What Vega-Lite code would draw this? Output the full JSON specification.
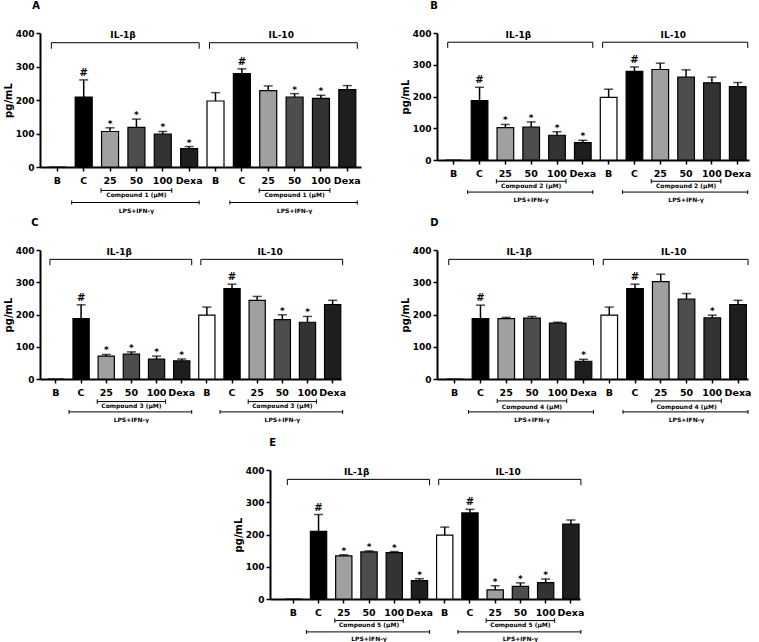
{
"$schema": "https://vega.github.io/schema/vega-lite/v6.json",
"padding": {"left": 3, "top": 1, "right": 0, "bottom": 0},
"config": {
 "view": {"stroke": null},
 "font": "DejaVu Sans",
 "title": {"font": "DejaVu Sans", "fontSize": 10, "fontWeight": "bold", "color": "black", "anchor": "start", "frame": "bounds", "offset": 18},
 "axis": {"grid": false, "domainColor": "black", "domainWidth": 2, "tickColor": "black", "tickWidth": 1.5, "tickSize": 4, "labelColor": "black", "labelFont": "DejaVu Sans", "labelFontWeight": "bold", "titleColor": "black", "titleFont": "DejaVu Sans", "titleFontWeight": "bold"},
 "axisX": {"labelFontSize": 9.5, "labelAngle": 0, "labelPadding": 4},
 "axisY": {"labelFontSize": 9, "labelPadding": 2, "titleFontSize": 10, "titlePadding": 2, "labelOverlap": false, "labelBound": false, "labelFlush": false},
 "text": {"font": "DejaVu Sans", "fontWeight": "bold", "color": "black"},
 "rule": {"color": "black"},
 "bar": {"stroke": "black", "strokeWidth": 1.2}
},
"datasets": {
 "bars": [
  {"p":"A","key":"IL-1β:B","grp":"B","v":0,"hi":null,"sig":""},
  {"p":"A","key":"IL-1β:C","grp":"C","v":209,"hi":260,"sig":"#"},
  {"p":"A","key":"IL-1β:25","grp":"25","v":106,"hi":117,"sig":"*"},
  {"p":"A","key":"IL-1β:50","grp":"50","v":118,"hi":143,"sig":"*"},
  {"p":"A","key":"IL-1β:100","grp":"100","v":98,"hi":106,"sig":"*"},
  {"p":"A","key":"IL-1β:Dexa","grp":"Dexa","v":55,"hi":61,"sig":"*"},
  {"p":"A","key":"IL-10:B","grp":"B","v":197,"hi":222,"sig":""},
  {"p":"A","key":"IL-10:C","grp":"C","v":279,"hi":293,"sig":"#"},
  {"p":"A","key":"IL-10:25","grp":"25","v":228,"hi":242,"sig":""},
  {"p":"A","key":"IL-10:50","grp":"50","v":209,"hi":219,"sig":"*"},
  {"p":"A","key":"IL-10:100","grp":"100","v":205,"hi":214,"sig":"*"},
  {"p":"A","key":"IL-10:Dexa","grp":"Dexa","v":231,"hi":243,"sig":""},
  {"p":"B","key":"IL-1β:B","grp":"B","v":0,"hi":null,"sig":""},
  {"p":"B","key":"IL-1β:C","grp":"C","v":187,"hi":229,"sig":"#"},
  {"p":"B","key":"IL-1β:25","grp":"25","v":102,"hi":112,"sig":"*"},
  {"p":"B","key":"IL-1β:50","grp":"50","v":104,"hi":120,"sig":"*"},
  {"p":"B","key":"IL-1β:100","grp":"100","v":78,"hi":89,"sig":"*"},
  {"p":"B","key":"IL-1β:Dexa","grp":"Dexa","v":55,"hi":62,"sig":"*"},
  {"p":"B","key":"IL-10:B","grp":"B","v":197,"hi":223,"sig":""},
  {"p":"B","key":"IL-10:C","grp":"C","v":279,"hi":293,"sig":"#"},
  {"p":"B","key":"IL-10:25","grp":"25","v":285,"hi":305,"sig":""},
  {"p":"B","key":"IL-10:50","grp":"50","v":261,"hi":284,"sig":""},
  {"p":"B","key":"IL-10:100","grp":"100","v":243,"hi":261,"sig":""},
  {"p":"B","key":"IL-10:Dexa","grp":"Dexa","v":231,"hi":244,"sig":""},
  {"p":"C","key":"IL-1β:B","grp":"B","v":0,"hi":null,"sig":""},
  {"p":"C","key":"IL-1β:C","grp":"C","v":187,"hi":230,"sig":"#"},
  {"p":"C","key":"IL-1β:25","grp":"25","v":71,"hi":76,"sig":"*"},
  {"p":"C","key":"IL-1β:50","grp":"50","v":77,"hi":84,"sig":"*"},
  {"p":"C","key":"IL-1β:100","grp":"100","v":62,"hi":71,"sig":"*"},
  {"p":"C","key":"IL-1β:Dexa","grp":"Dexa","v":56,"hi":62,"sig":"*"},
  {"p":"C","key":"IL-10:B","grp":"B","v":198,"hi":223,"sig":""},
  {"p":"C","key":"IL-10:C","grp":"C","v":280,"hi":294,"sig":"#"},
  {"p":"C","key":"IL-10:25","grp":"25","v":244,"hi":256,"sig":""},
  {"p":"C","key":"IL-10:50","grp":"50","v":184,"hi":199,"sig":"*"},
  {"p":"C","key":"IL-10:100","grp":"100","v":176,"hi":194,"sig":"*"},
  {"p":"C","key":"IL-10:Dexa","grp":"Dexa","v":231,"hi":244,"sig":""},
  {"p":"D","key":"IL-1β:B","grp":"B","v":0,"hi":null,"sig":""},
  {"p":"D","key":"IL-1β:C","grp":"C","v":187,"hi":229,"sig":"#"},
  {"p":"D","key":"IL-1β:25","grp":"25","v":187,"hi":191,"sig":""},
  {"p":"D","key":"IL-1β:50","grp":"50","v":189,"hi":194,"sig":""},
  {"p":"D","key":"IL-1β:100","grp":"100","v":173,"hi":176,"sig":""},
  {"p":"D","key":"IL-1β:Dexa","grp":"Dexa","v":55,"hi":61,"sig":"*"},
  {"p":"D","key":"IL-10:B","grp":"B","v":198,"hi":223,"sig":""},
  {"p":"D","key":"IL-10:C","grp":"C","v":280,"hi":294,"sig":"#"},
  {"p":"D","key":"IL-10:25","grp":"25","v":302,"hi":325,"sig":""},
  {"p":"D","key":"IL-10:50","grp":"50","v":248,"hi":265,"sig":""},
  {"p":"D","key":"IL-10:100","grp":"100","v":190,"hi":198,"sig":"*"},
  {"p":"D","key":"IL-10:Dexa","grp":"Dexa","v":231,"hi":244,"sig":""},
  {"p":"E","key":"IL-1β:B","grp":"B","v":0,"hi":null,"sig":""},
  {"p":"E","key":"IL-1β:C","grp":"C","v":210,"hi":262,"sig":"#"},
  {"p":"E","key":"IL-1β:25","grp":"25","v":134,"hi":137,"sig":"*"},
  {"p":"E","key":"IL-1β:50","grp":"50","v":146,"hi":149,"sig":"*"},
  {"p":"E","key":"IL-1β:100","grp":"100","v":144,"hi":147,"sig":"*"},
  {"p":"E","key":"IL-1β:Dexa","grp":"Dexa","v":57,"hi":63,"sig":"*"},
  {"p":"E","key":"IL-10:B","grp":"B","v":198,"hi":223,"sig":""},
  {"p":"E","key":"IL-10:C","grp":"C","v":267,"hi":278,"sig":"#"},
  {"p":"E","key":"IL-10:25","grp":"25","v":28,"hi":41,"sig":"*"},
  {"p":"E","key":"IL-10:50","grp":"50","v":39,"hi":50,"sig":"*"},
  {"p":"E","key":"IL-10:100","grp":"100","v":51,"hi":62,"sig":"*"},
  {"p":"E","key":"IL-10:Dexa","grp":"Dexa","v":232,"hi":245,"sig":""}
 ],
 "ann": [
  {"p":"A","cyt":"IL-1β","first":"IL-1β:B","last":"IL-1β:Dexa","lab":"IL-1β:25","c1":"IL-1β:25","c2":"IL-1β:100","mid":"IL-1β:50","l1":"IL-1β:C","comp":"Compound 1 (μM)","lps":"LPS+IFN-γ"},
  {"p":"A","cyt":"IL-10","first":"IL-10:B","last":"IL-10:Dexa","lab":"IL-10:25","c1":"IL-10:25","c2":"IL-10:100","mid":"IL-10:50","l1":"IL-10:C","comp":"Compound 1 (μM)","lps":"LPS+IFN-γ"},
  {"p":"B","cyt":"IL-1β","first":"IL-1β:B","last":"IL-1β:Dexa","lab":"IL-1β:25","c1":"IL-1β:25","c2":"IL-1β:100","mid":"IL-1β:50","l1":"IL-1β:C","comp":"Compound 2 (μM)","lps":"LPS+IFN-γ"},
  {"p":"B","cyt":"IL-10","first":"IL-10:B","last":"IL-10:Dexa","lab":"IL-10:25","c1":"IL-10:25","c2":"IL-10:100","mid":"IL-10:50","l1":"IL-10:C","comp":"Compound 2 (μM)","lps":"LPS+IFN-γ"},
  {"p":"C","cyt":"IL-1β","first":"IL-1β:B","last":"IL-1β:Dexa","lab":"IL-1β:25","c1":"IL-1β:25","c2":"IL-1β:100","mid":"IL-1β:50","l1":"IL-1β:C","comp":"Compound 3 (μM)","lps":"LPS+IFN-γ"},
  {"p":"C","cyt":"IL-10","first":"IL-10:B","last":"IL-10:Dexa","lab":"IL-10:25","c1":"IL-10:25","c2":"IL-10:100","mid":"IL-10:50","l1":"IL-10:C","comp":"Compound 3 (μM)","lps":"LPS+IFN-γ"},
  {"p":"D","cyt":"IL-1β","first":"IL-1β:B","last":"IL-1β:Dexa","lab":"IL-1β:25","c1":"IL-1β:25","c2":"IL-1β:100","mid":"IL-1β:50","l1":"IL-1β:C","comp":"Compound 4 (μM)","lps":"LPS+IFN-γ"},
  {"p":"D","cyt":"IL-10","first":"IL-10:B","last":"IL-10:Dexa","lab":"IL-10:25","c1":"IL-10:25","c2":"IL-10:100","mid":"IL-10:50","l1":"IL-10:C","comp":"Compound 4 (μM)","lps":"LPS+IFN-γ"},
  {"p":"E","cyt":"IL-1β","first":"IL-1β:B","last":"IL-1β:Dexa","lab":"IL-1β:25","c1":"IL-1β:25","c2":"IL-1β:100","mid":"IL-1β:50","l1":"IL-1β:C","comp":"Compound 5 (μM)","lps":"LPS+IFN-γ"},
  {"p":"E","cyt":"IL-10","first":"IL-10:B","last":"IL-10:Dexa","lab":"IL-10:25","c1":"IL-10:25","c2":"IL-10:100","mid":"IL-10:50","l1":"IL-10:C","comp":"Compound 5 (μM)","lps":"LPS+IFN-γ"}
 ]
},
"spacing": 15,
"vconcat": [
 {"spacing": 4, "vconcat": [
  {"spacing": 39, "hconcat": [
   {"title": {"text": "A", "dx": 29}, "width": 321, "height": 134, "layer": [
    {"data":{"name":"bars"},"transform":[{"filter":"datum.p=='A'"}],"mark":"bar","encoding":{"x":{"field":"key","type":"nominal","scale":{"domain":["IL-1β:B","IL-1β:C","IL-1β:25","IL-1β:50","IL-1β:100","IL-1β:Dexa","IL-10:B","IL-10:C","IL-10:25","IL-10:50","IL-10:100","IL-10:Dexa"],"paddingInner":0.355,"paddingOuter":0.266,"align":0.63},"axis":{"title":null,"labelExpr":"split(datum.value, ':')[1]"}},"y":{"field":"v","type":"quantitative","scale":{"domain":[0,400],"nice":false},"axis":{"title":"pg/mL","values":[0,100,200,300,400],"tickCount":5}},"fill":{"field":"grp","type":"nominal","scale":{"domain":["B","C","25","50","100","Dexa"],"range":["#ffffff","#000000","#a0a0a0","#4d4d4d","#333333","#1e1e1e"]},"legend":null}}},
    {"data":{"name":"bars"},"transform":[{"filter":"datum.p=='A' && isValid(datum.hi)"}],"mark":{"type":"rule","strokeWidth":1.5},"encoding":{"x":{"field":"key","type":"nominal"},"y":{"field":"v","type":"quantitative"},"y2":{"field":"hi"}}},
    {"data":{"name":"bars"},"transform":[{"filter":"datum.p=='A' && isValid(datum.hi)"}],"mark":{"type":"tick","color":"black","thickness":1.5,"size":9,"orient":"horizontal"},"encoding":{"x":{"field":"key","type":"nominal"},"y":{"field":"hi","type":"quantitative"}}},
    {"data":{"name":"bars"},"transform":[{"filter":"datum.p=='A' && datum.sig=='#'"}],"mark":{"type":"text","fontSize":10,"baseline":"alphabetic","dy":-4},"encoding":{"x":{"field":"key","type":"nominal"},"y":{"field":"hi","type":"quantitative"},"text":{"field":"sig"}}},
    {"data":{"name":"bars"},"transform":[{"filter":"datum.p=='A' && datum.sig=='*'"}],"mark":{"type":"text","fontSize":9,"baseline":"alphabetic","dy":-1},"encoding":{"x":{"field":"key","type":"nominal"},"y":{"field":"hi","type":"quantitative"},"text":{"field":"sig"}}},
    {"data":{"name":"ann"},"transform":[{"filter":"datum.p=='A'"}],"mark":{"type":"rule","strokeWidth":1,"xOffset":-6,"x2Offset":10},"encoding":{"x":{"field":"first","type":"nominal"},"x2":{"field":"last"},"y":{"datum":371}}},
    {"data":{"name":"ann"},"transform":[{"filter":"datum.p=='A'"}],"mark":{"type":"rule","strokeWidth":1,"xOffset":-6},"encoding":{"x":{"field":"first","type":"nominal"},"y":{"datum":371},"y2":{"datum":353}}},
    {"data":{"name":"ann"},"transform":[{"filter":"datum.p=='A'"}],"mark":{"type":"rule","strokeWidth":1,"xOffset":10},"encoding":{"x":{"field":"last","type":"nominal"},"y":{"datum":371},"y2":{"datum":353}}},
    {"data":{"name":"ann"},"transform":[{"filter":"datum.p=='A'"}],"mark":{"type":"text","fontSize":9,"dx":13,"baseline":"middle"},"encoding":{"x":{"field":"lab","type":"nominal"},"y":{"datum":393},"text":{"field":"cyt"}}},
    {"data":{"name":"ann"},"transform":[{"filter":"datum.p=='A'"}],"mark":{"type":"rule","strokeWidth":1,"xOffset":-9,"x2Offset":9},"encoding":{"x":{"field":"c1","type":"nominal"},"x2":{"field":"c2"},"y":{"datum":-70}}},
    {"data":{"name":"ann"},"transform":[{"filter":"datum.p=='A'"}],"mark":{"type":"rule","strokeWidth":1,"xOffset":-9},"encoding":{"x":{"field":"c1","type":"nominal"},"y":{"datum":-63},"y2":{"datum":-77}}},
    {"data":{"name":"ann"},"transform":[{"filter":"datum.p=='A'"}],"mark":{"type":"rule","strokeWidth":1,"xOffset":9},"encoding":{"x":{"field":"c2","type":"nominal"},"y":{"datum":-63},"y2":{"datum":-77}}},
    {"data":{"name":"ann"},"transform":[{"filter":"datum.p=='A'"}],"mark":{"type":"text","fontSize":6,"baseline":"middle"},"encoding":{"x":{"field":"mid","type":"nominal"},"y":{"datum":-85},"text":{"field":"comp"}}},
    {"data":{"name":"ann"},"transform":[{"filter":"datum.p=='A'"}],"mark":{"type":"rule","strokeWidth":1,"xOffset":-12,"x2Offset":10},"encoding":{"x":{"field":"l1","type":"nominal"},"x2":{"field":"last"},"y":{"datum":-106}}},
    {"data":{"name":"ann"},"transform":[{"filter":"datum.p=='A'"}],"mark":{"type":"rule","strokeWidth":1,"xOffset":-12},"encoding":{"x":{"field":"l1","type":"nominal"},"y":{"datum":-100},"y2":{"datum":-112}}},
    {"data":{"name":"ann"},"transform":[{"filter":"datum.p=='A'"}],"mark":{"type":"rule","strokeWidth":1,"xOffset":10},"encoding":{"x":{"field":"last","type":"nominal"},"y":{"datum":-100},"y2":{"datum":-112}}},
    {"data":{"name":"ann"},"transform":[{"filter":"datum.p=='A'"}],"mark":{"type":"text","fontSize":6,"baseline":"middle"},"encoding":{"x":{"field":"mid","type":"nominal"},"y":{"datum":-130},"text":{"field":"lps"}}}
   ]},
   {"title": {"text": "B", "dx": 30}, "width": 312, "height": 127, "layer": [
    {"data":{"name":"bars"},"transform":[{"filter":"datum.p=='B'"}],"mark":"bar","encoding":{"x":{"field":"key","type":"nominal","scale":{"domain":["IL-1β:B","IL-1β:C","IL-1β:25","IL-1β:50","IL-1β:100","IL-1β:Dexa","IL-10:B","IL-10:C","IL-10:25","IL-10:50","IL-10:100","IL-10:Dexa"],"paddingInner":0.355,"paddingOuter":0.22,"align":0.74},"axis":{"title":null,"labelExpr":"split(datum.value, ':')[1]"}},"y":{"field":"v","type":"quantitative","scale":{"domain":[0,400],"nice":false},"axis":{"title":"pg/mL","values":[0,100,200,300,400],"tickCount":5}},"fill":{"field":"grp","type":"nominal","scale":{"domain":["B","C","25","50","100","Dexa"],"range":["#ffffff","#000000","#a0a0a0","#4d4d4d","#333333","#1e1e1e"]},"legend":null}}},
    {"data":{"name":"bars"},"transform":[{"filter":"datum.p=='B' && isValid(datum.hi)"}],"mark":{"type":"rule","strokeWidth":1.5},"encoding":{"x":{"field":"key","type":"nominal"},"y":{"field":"v","type":"quantitative"},"y2":{"field":"hi"}}},
    {"data":{"name":"bars"},"transform":[{"filter":"datum.p=='B' && isValid(datum.hi)"}],"mark":{"type":"tick","color":"black","thickness":1.5,"size":9,"orient":"horizontal"},"encoding":{"x":{"field":"key","type":"nominal"},"y":{"field":"hi","type":"quantitative"}}},
    {"data":{"name":"bars"},"transform":[{"filter":"datum.p=='B' && datum.sig=='#'"}],"mark":{"type":"text","fontSize":10,"baseline":"alphabetic","dy":-4},"encoding":{"x":{"field":"key","type":"nominal"},"y":{"field":"hi","type":"quantitative"},"text":{"field":"sig"}}},
    {"data":{"name":"bars"},"transform":[{"filter":"datum.p=='B' && datum.sig=='*'"}],"mark":{"type":"text","fontSize":9,"baseline":"alphabetic","dy":-1},"encoding":{"x":{"field":"key","type":"nominal"},"y":{"field":"hi","type":"quantitative"},"text":{"field":"sig"}}},
    {"data":{"name":"ann"},"transform":[{"filter":"datum.p=='B'"}],"mark":{"type":"rule","strokeWidth":1,"xOffset":-6,"x2Offset":10},"encoding":{"x":{"field":"first","type":"nominal"},"x2":{"field":"last"},"y":{"datum":371}}},
    {"data":{"name":"ann"},"transform":[{"filter":"datum.p=='B'"}],"mark":{"type":"rule","strokeWidth":1,"xOffset":-6},"encoding":{"x":{"field":"first","type":"nominal"},"y":{"datum":371},"y2":{"datum":353}}},
    {"data":{"name":"ann"},"transform":[{"filter":"datum.p=='B'"}],"mark":{"type":"rule","strokeWidth":1,"xOffset":10},"encoding":{"x":{"field":"last","type":"nominal"},"y":{"datum":371},"y2":{"datum":353}}},
    {"data":{"name":"ann"},"transform":[{"filter":"datum.p=='B'"}],"mark":{"type":"text","fontSize":9,"dx":13,"baseline":"middle"},"encoding":{"x":{"field":"lab","type":"nominal"},"y":{"datum":393},"text":{"field":"cyt"}}},
    {"data":{"name":"ann"},"transform":[{"filter":"datum.p=='B'"}],"mark":{"type":"rule","strokeWidth":1,"xOffset":-9,"x2Offset":9},"encoding":{"x":{"field":"c1","type":"nominal"},"x2":{"field":"c2"},"y":{"datum":-67}}},
    {"data":{"name":"ann"},"transform":[{"filter":"datum.p=='B'"}],"mark":{"type":"rule","strokeWidth":1,"xOffset":-9},"encoding":{"x":{"field":"c1","type":"nominal"},"y":{"datum":-60},"y2":{"datum":-74}}},
    {"data":{"name":"ann"},"transform":[{"filter":"datum.p=='B'"}],"mark":{"type":"rule","strokeWidth":1,"xOffset":9},"encoding":{"x":{"field":"c2","type":"nominal"},"y":{"datum":-60},"y2":{"datum":-74}}},
    {"data":{"name":"ann"},"transform":[{"filter":"datum.p=='B'"}],"mark":{"type":"text","fontSize":6,"baseline":"middle"},"encoding":{"x":{"field":"mid","type":"nominal"},"y":{"datum":-83},"text":{"field":"comp"}}},
    {"data":{"name":"ann"},"transform":[{"filter":"datum.p=='B'"}],"mark":{"type":"rule","strokeWidth":1,"xOffset":-12,"x2Offset":10},"encoding":{"x":{"field":"l1","type":"nominal"},"x2":{"field":"last"},"y":{"datum":-101}}},
    {"data":{"name":"ann"},"transform":[{"filter":"datum.p=='B'"}],"mark":{"type":"rule","strokeWidth":1,"xOffset":-12},"encoding":{"x":{"field":"l1","type":"nominal"},"y":{"datum":-95},"y2":{"datum":-107}}},
    {"data":{"name":"ann"},"transform":[{"filter":"datum.p=='B'"}],"mark":{"type":"rule","strokeWidth":1,"xOffset":10},"encoding":{"x":{"field":"last","type":"nominal"},"y":{"datum":-95},"y2":{"datum":-107}}},
    {"data":{"name":"ann"},"transform":[{"filter":"datum.p=='B'"}],"mark":{"type":"text","fontSize":6,"baseline":"middle"},"encoding":{"x":{"field":"mid","type":"nominal"},"y":{"datum":-125},"text":{"field":"lps"}}}
   ]}
  ]},
  {"spacing": 54, "hconcat": [
   {"title": {"text": "C", "dx": 28}, "width": 301, "height": 129, "layer": [
    {"data":{"name":"bars"},"transform":[{"filter":"datum.p=='C'"}],"mark":"bar","encoding":{"x":{"field":"key","type":"nominal","scale":{"domain":["IL-1β:B","IL-1β:C","IL-1β:25","IL-1β:50","IL-1β:100","IL-1β:Dexa","IL-10:B","IL-10:C","IL-10:25","IL-10:50","IL-10:100","IL-10:Dexa"],"paddingInner":0.355,"paddingOuter":0.16,"align":0.97},"axis":{"title":null,"labelExpr":"split(datum.value, ':')[1]"}},"y":{"field":"v","type":"quantitative","scale":{"domain":[0,400],"nice":false},"axis":{"title":"pg/mL","values":[0,100,200,300,400],"tickCount":5}},"fill":{"field":"grp","type":"nominal","scale":{"domain":["B","C","25","50","100","Dexa"],"range":["#ffffff","#000000","#a0a0a0","#4d4d4d","#333333","#1e1e1e"]},"legend":null}}},
    {"data":{"name":"bars"},"transform":[{"filter":"datum.p=='C' && isValid(datum.hi)"}],"mark":{"type":"rule","strokeWidth":1.5},"encoding":{"x":{"field":"key","type":"nominal"},"y":{"field":"v","type":"quantitative"},"y2":{"field":"hi"}}},
    {"data":{"name":"bars"},"transform":[{"filter":"datum.p=='C' && isValid(datum.hi)"}],"mark":{"type":"tick","color":"black","thickness":1.5,"size":9,"orient":"horizontal"},"encoding":{"x":{"field":"key","type":"nominal"},"y":{"field":"hi","type":"quantitative"}}},
    {"data":{"name":"bars"},"transform":[{"filter":"datum.p=='C' && datum.sig=='#'"}],"mark":{"type":"text","fontSize":10,"baseline":"alphabetic","dy":-4},"encoding":{"x":{"field":"key","type":"nominal"},"y":{"field":"hi","type":"quantitative"},"text":{"field":"sig"}}},
    {"data":{"name":"bars"},"transform":[{"filter":"datum.p=='C' && datum.sig=='*'"}],"mark":{"type":"text","fontSize":9,"baseline":"alphabetic","dy":-1},"encoding":{"x":{"field":"key","type":"nominal"},"y":{"field":"hi","type":"quantitative"},"text":{"field":"sig"}}},
    {"data":{"name":"ann"},"transform":[{"filter":"datum.p=='C'"}],"mark":{"type":"rule","strokeWidth":1,"xOffset":-6,"x2Offset":10},"encoding":{"x":{"field":"first","type":"nominal"},"x2":{"field":"last"},"y":{"datum":371}}},
    {"data":{"name":"ann"},"transform":[{"filter":"datum.p=='C'"}],"mark":{"type":"rule","strokeWidth":1,"xOffset":-6},"encoding":{"x":{"field":"first","type":"nominal"},"y":{"datum":371},"y2":{"datum":353}}},
    {"data":{"name":"ann"},"transform":[{"filter":"datum.p=='C'"}],"mark":{"type":"rule","strokeWidth":1,"xOffset":10},"encoding":{"x":{"field":"last","type":"nominal"},"y":{"datum":371},"y2":{"datum":353}}},
    {"data":{"name":"ann"},"transform":[{"filter":"datum.p=='C'"}],"mark":{"type":"text","fontSize":9,"dx":13,"baseline":"middle"},"encoding":{"x":{"field":"lab","type":"nominal"},"y":{"datum":393},"text":{"field":"cyt"}}},
    {"data":{"name":"ann"},"transform":[{"filter":"datum.p=='C'"}],"mark":{"type":"rule","strokeWidth":1,"xOffset":-9,"x2Offset":9},"encoding":{"x":{"field":"c1","type":"nominal"},"x2":{"field":"c2"},"y":{"datum":-70}}},
    {"data":{"name":"ann"},"transform":[{"filter":"datum.p=='C'"}],"mark":{"type":"rule","strokeWidth":1,"xOffset":-9},"encoding":{"x":{"field":"c1","type":"nominal"},"y":{"datum":-63},"y2":{"datum":-77}}},
    {"data":{"name":"ann"},"transform":[{"filter":"datum.p=='C'"}],"mark":{"type":"rule","strokeWidth":1,"xOffset":9},"encoding":{"x":{"field":"c2","type":"nominal"},"y":{"datum":-63},"y2":{"datum":-77}}},
    {"data":{"name":"ann"},"transform":[{"filter":"datum.p=='C'"}],"mark":{"type":"text","fontSize":6,"baseline":"middle"},"encoding":{"x":{"field":"mid","type":"nominal"},"y":{"datum":-85},"text":{"field":"comp"}}},
    {"data":{"name":"ann"},"transform":[{"filter":"datum.p=='C'"}],"mark":{"type":"rule","strokeWidth":1,"xOffset":-12,"x2Offset":10},"encoding":{"x":{"field":"l1","type":"nominal"},"x2":{"field":"last"},"y":{"datum":-102}}},
    {"data":{"name":"ann"},"transform":[{"filter":"datum.p=='C'"}],"mark":{"type":"rule","strokeWidth":1,"xOffset":-12},"encoding":{"x":{"field":"l1","type":"nominal"},"y":{"datum":-96},"y2":{"datum":-108}}},
    {"data":{"name":"ann"},"transform":[{"filter":"datum.p=='C'"}],"mark":{"type":"rule","strokeWidth":1,"xOffset":10},"encoding":{"x":{"field":"last","type":"nominal"},"y":{"datum":-96},"y2":{"datum":-108}}},
    {"data":{"name":"ann"},"transform":[{"filter":"datum.p=='C'"}],"mark":{"type":"text","fontSize":6,"baseline":"middle"},"encoding":{"x":{"field":"mid","type":"nominal"},"y":{"datum":-127},"text":{"field":"lps"}}}
   ]},
   {"title": {"text": "D", "dx": 30}, "width": 311, "height": 129, "layer": [
    {"data":{"name":"bars"},"transform":[{"filter":"datum.p=='D'"}],"mark":"bar","encoding":{"x":{"field":"key","type":"nominal","scale":{"domain":["IL-1β:B","IL-1β:C","IL-1β:25","IL-1β:50","IL-1β:100","IL-1β:Dexa","IL-10:B","IL-10:C","IL-10:25","IL-10:50","IL-10:100","IL-10:Dexa"],"paddingInner":0.355,"paddingOuter":0.215,"align":0.85},"axis":{"title":null,"labelExpr":"split(datum.value, ':')[1]"}},"y":{"field":"v","type":"quantitative","scale":{"domain":[0,400],"nice":false},"axis":{"title":"pg/mL","values":[0,100,200,300,400],"tickCount":5}},"fill":{"field":"grp","type":"nominal","scale":{"domain":["B","C","25","50","100","Dexa"],"range":["#ffffff","#000000","#a0a0a0","#4d4d4d","#333333","#1e1e1e"]},"legend":null}}},
    {"data":{"name":"bars"},"transform":[{"filter":"datum.p=='D' && isValid(datum.hi)"}],"mark":{"type":"rule","strokeWidth":1.5},"encoding":{"x":{"field":"key","type":"nominal"},"y":{"field":"v","type":"quantitative"},"y2":{"field":"hi"}}},
    {"data":{"name":"bars"},"transform":[{"filter":"datum.p=='D' && isValid(datum.hi)"}],"mark":{"type":"tick","color":"black","thickness":1.5,"size":9,"orient":"horizontal"},"encoding":{"x":{"field":"key","type":"nominal"},"y":{"field":"hi","type":"quantitative"}}},
    {"data":{"name":"bars"},"transform":[{"filter":"datum.p=='D' && datum.sig=='#'"}],"mark":{"type":"text","fontSize":10,"baseline":"alphabetic","dy":-4},"encoding":{"x":{"field":"key","type":"nominal"},"y":{"field":"hi","type":"quantitative"},"text":{"field":"sig"}}},
    {"data":{"name":"bars"},"transform":[{"filter":"datum.p=='D' && datum.sig=='*'"}],"mark":{"type":"text","fontSize":9,"baseline":"alphabetic","dy":-1},"encoding":{"x":{"field":"key","type":"nominal"},"y":{"field":"hi","type":"quantitative"},"text":{"field":"sig"}}},
    {"data":{"name":"ann"},"transform":[{"filter":"datum.p=='D'"}],"mark":{"type":"rule","strokeWidth":1,"xOffset":-6,"x2Offset":10},"encoding":{"x":{"field":"first","type":"nominal"},"x2":{"field":"last"},"y":{"datum":371}}},
    {"data":{"name":"ann"},"transform":[{"filter":"datum.p=='D'"}],"mark":{"type":"rule","strokeWidth":1,"xOffset":-6},"encoding":{"x":{"field":"first","type":"nominal"},"y":{"datum":371},"y2":{"datum":353}}},
    {"data":{"name":"ann"},"transform":[{"filter":"datum.p=='D'"}],"mark":{"type":"rule","strokeWidth":1,"xOffset":10},"encoding":{"x":{"field":"last","type":"nominal"},"y":{"datum":371},"y2":{"datum":353}}},
    {"data":{"name":"ann"},"transform":[{"filter":"datum.p=='D'"}],"mark":{"type":"text","fontSize":9,"dx":13,"baseline":"middle"},"encoding":{"x":{"field":"lab","type":"nominal"},"y":{"datum":393},"text":{"field":"cyt"}}},
    {"data":{"name":"ann"},"transform":[{"filter":"datum.p=='D'"}],"mark":{"type":"rule","strokeWidth":1,"xOffset":-9,"x2Offset":9},"encoding":{"x":{"field":"c1","type":"nominal"},"x2":{"field":"c2"},"y":{"datum":-68}}},
    {"data":{"name":"ann"},"transform":[{"filter":"datum.p=='D'"}],"mark":{"type":"rule","strokeWidth":1,"xOffset":-9},"encoding":{"x":{"field":"c1","type":"nominal"},"y":{"datum":-61},"y2":{"datum":-75}}},
    {"data":{"name":"ann"},"transform":[{"filter":"datum.p=='D'"}],"mark":{"type":"rule","strokeWidth":1,"xOffset":9},"encoding":{"x":{"field":"c2","type":"nominal"},"y":{"datum":-61},"y2":{"datum":-75}}},
    {"data":{"name":"ann"},"transform":[{"filter":"datum.p=='D'"}],"mark":{"type":"text","fontSize":6,"baseline":"middle"},"encoding":{"x":{"field":"mid","type":"nominal"},"y":{"datum":-86},"text":{"field":"comp"}}},
    {"data":{"name":"ann"},"transform":[{"filter":"datum.p=='D'"}],"mark":{"type":"rule","strokeWidth":1,"xOffset":-12,"x2Offset":10},"encoding":{"x":{"field":"l1","type":"nominal"},"x2":{"field":"last"},"y":{"datum":-102}}},
    {"data":{"name":"ann"},"transform":[{"filter":"datum.p=='D'"}],"mark":{"type":"rule","strokeWidth":1,"xOffset":-12},"encoding":{"x":{"field":"l1","type":"nominal"},"y":{"datum":-96},"y2":{"datum":-108}}},
    {"data":{"name":"ann"},"transform":[{"filter":"datum.p=='D'"}],"mark":{"type":"rule","strokeWidth":1,"xOffset":10},"encoding":{"x":{"field":"last","type":"nominal"},"y":{"datum":-96},"y2":{"datum":-108}}},
    {"data":{"name":"ann"},"transform":[{"filter":"datum.p=='D'"}],"mark":{"type":"text","fontSize":6,"baseline":"middle"},"encoding":{"x":{"field":"mid","type":"nominal"},"y":{"datum":-127},"text":{"field":"lps"}}}
   ]}
  ]}
 ]},
 {"spacing": 30, "hconcat": [
  {"width": 163, "height": 10, "data": {"values": []}, "mark": {"type": "point", "opacity": 0}, "encoding": {}},
  {"title": {"text": "E", "dx": 36}, "width": 310, "height": 129, "layer": [
    {"data":{"name":"bars"},"transform":[{"filter":"datum.p=='E'"}],"mark":"bar","encoding":{"x":{"field":"key","type":"nominal","scale":{"domain":["IL-1β:B","IL-1β:C","IL-1β:25","IL-1β:50","IL-1β:100","IL-1β:Dexa","IL-10:B","IL-10:C","IL-10:25","IL-10:50","IL-10:100","IL-10:Dexa"],"paddingInner":0.355,"paddingOuter":0.32,"align":0.94},"axis":{"title":null,"labelExpr":"split(datum.value, ':')[1]"}},"y":{"field":"v","type":"quantitative","scale":{"domain":[0,400],"nice":false},"axis":{"title":"pg/mL","values":[0,100,200,300,400],"tickCount":5}},"fill":{"field":"grp","type":"nominal","scale":{"domain":["B","C","25","50","100","Dexa"],"range":["#ffffff","#000000","#a0a0a0","#4d4d4d","#333333","#1e1e1e"]},"legend":null}}},
    {"data":{"name":"bars"},"transform":[{"filter":"datum.p=='E' && isValid(datum.hi)"}],"mark":{"type":"rule","strokeWidth":1.5},"encoding":{"x":{"field":"key","type":"nominal"},"y":{"field":"v","type":"quantitative"},"y2":{"field":"hi"}}},
    {"data":{"name":"bars"},"transform":[{"filter":"datum.p=='E' && isValid(datum.hi)"}],"mark":{"type":"tick","color":"black","thickness":1.5,"size":9,"orient":"horizontal"},"encoding":{"x":{"field":"key","type":"nominal"},"y":{"field":"hi","type":"quantitative"}}},
    {"data":{"name":"bars"},"transform":[{"filter":"datum.p=='E' && datum.sig=='#'"}],"mark":{"type":"text","fontSize":10,"baseline":"alphabetic","dy":-4},"encoding":{"x":{"field":"key","type":"nominal"},"y":{"field":"hi","type":"quantitative"},"text":{"field":"sig"}}},
    {"data":{"name":"bars"},"transform":[{"filter":"datum.p=='E' && datum.sig=='*'"}],"mark":{"type":"text","fontSize":9,"baseline":"alphabetic","dy":-1},"encoding":{"x":{"field":"key","type":"nominal"},"y":{"field":"hi","type":"quantitative"},"text":{"field":"sig"}}},
    {"data":{"name":"ann"},"transform":[{"filter":"datum.p=='E'"}],"mark":{"type":"rule","strokeWidth":1,"xOffset":-6,"x2Offset":10},"encoding":{"x":{"field":"first","type":"nominal"},"x2":{"field":"last"},"y":{"datum":371}}},
    {"data":{"name":"ann"},"transform":[{"filter":"datum.p=='E'"}],"mark":{"type":"rule","strokeWidth":1,"xOffset":-6},"encoding":{"x":{"field":"first","type":"nominal"},"y":{"datum":371},"y2":{"datum":353}}},
    {"data":{"name":"ann"},"transform":[{"filter":"datum.p=='E'"}],"mark":{"type":"rule","strokeWidth":1,"xOffset":10},"encoding":{"x":{"field":"last","type":"nominal"},"y":{"datum":371},"y2":{"datum":353}}},
    {"data":{"name":"ann"},"transform":[{"filter":"datum.p=='E'"}],"mark":{"type":"text","fontSize":9,"dx":13,"baseline":"middle"},"encoding":{"x":{"field":"lab","type":"nominal"},"y":{"datum":393},"text":{"field":"cyt"}}},
    {"data":{"name":"ann"},"transform":[{"filter":"datum.p=='E'"}],"mark":{"type":"rule","strokeWidth":1,"xOffset":-9,"x2Offset":9},"encoding":{"x":{"field":"c1","type":"nominal"},"x2":{"field":"c2"},"y":{"datum":-67}}},
    {"data":{"name":"ann"},"transform":[{"filter":"datum.p=='E'"}],"mark":{"type":"rule","strokeWidth":1,"xOffset":-9},"encoding":{"x":{"field":"c1","type":"nominal"},"y":{"datum":-60},"y2":{"datum":-74}}},
    {"data":{"name":"ann"},"transform":[{"filter":"datum.p=='E'"}],"mark":{"type":"rule","strokeWidth":1,"xOffset":9},"encoding":{"x":{"field":"c2","type":"nominal"},"y":{"datum":-60},"y2":{"datum":-74}}},
    {"data":{"name":"ann"},"transform":[{"filter":"datum.p=='E'"}],"mark":{"type":"text","fontSize":6,"baseline":"middle"},"encoding":{"x":{"field":"mid","type":"nominal"},"y":{"datum":-81},"text":{"field":"comp"}}},
    {"data":{"name":"ann"},"transform":[{"filter":"datum.p=='E'"}],"mark":{"type":"rule","strokeWidth":1,"xOffset":-12,"x2Offset":10},"encoding":{"x":{"field":"l1","type":"nominal"},"x2":{"field":"last"},"y":{"datum":-102}}},
    {"data":{"name":"ann"},"transform":[{"filter":"datum.p=='E'"}],"mark":{"type":"rule","strokeWidth":1,"xOffset":-12},"encoding":{"x":{"field":"l1","type":"nominal"},"y":{"datum":-96},"y2":{"datum":-108}}},
    {"data":{"name":"ann"},"transform":[{"filter":"datum.p=='E'"}],"mark":{"type":"rule","strokeWidth":1,"xOffset":10},"encoding":{"x":{"field":"last","type":"nominal"},"y":{"datum":-96},"y2":{"datum":-108}}},
    {"data":{"name":"ann"},"transform":[{"filter":"datum.p=='E'"}],"mark":{"type":"text","fontSize":6,"baseline":"middle"},"encoding":{"x":{"field":"mid","type":"nominal"},"y":{"datum":-123},"text":{"field":"lps"}}}
  ]}
 ]}
]
}
